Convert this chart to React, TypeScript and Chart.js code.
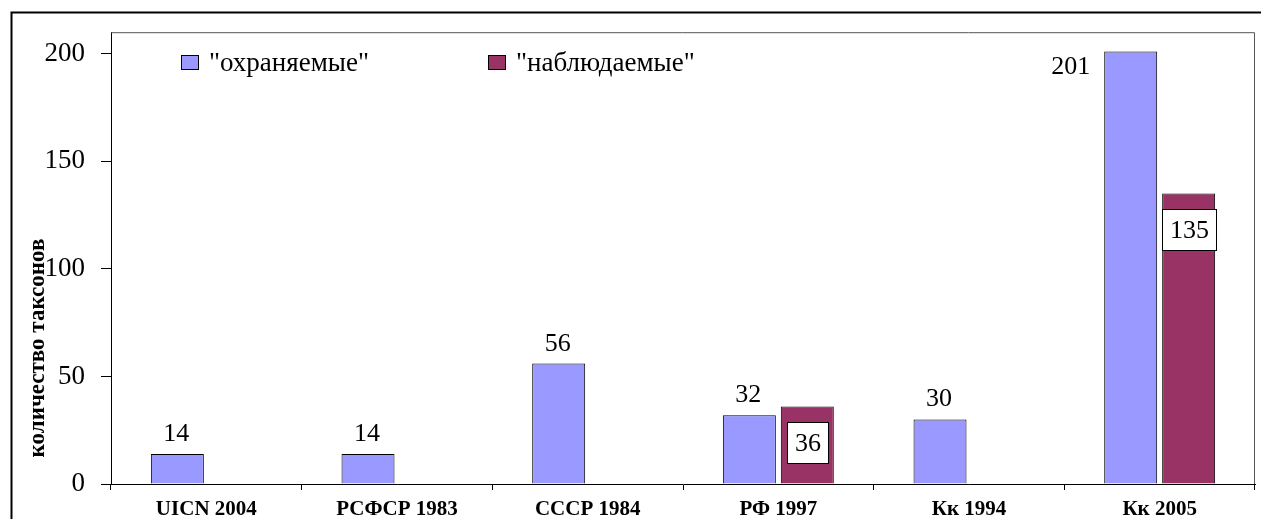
import React, { useEffect, useRef } from "react";
import { Chart, registerables } from "chart.js";

Chart.register(...registerables);

const categories = ["UICN 2004", "РСФСР 1983", "СССР 1984", "РФ 1997", "Кк 1994", "Кк 2005"];
const protectedValues: (number | null)[] = [14, 14, 56, 32, 30, 201];
const observedValues: (number | null)[] = [null, null, null, 36, null, 135];
const seriesLabels = ['"охраняемые"', '"наблюдаемые"'];
const seriesColors = ["#9999FF", "#993366"];
const yTickValues = [0, 50, 100, 150, 200];
const yMax = 210;
const yTitle = "количество таксонов";

const FONT = "'Liberation Serif', 'Times New Roman', serif";

const decorPlugin = {
  id: "decor",
  beforeDraw(chart: any) {
    const ctx = chart.ctx;
    ctx.save();
    ctx.fillStyle = "#ffffff";
    ctx.fillRect(0, 0, chart.width, chart.height);
    ctx.strokeStyle = "#000000";
    ctx.lineWidth = 2;
    ctx.beginPath();
    ctx.moveTo(11.5, chart.height);
    ctx.lineTo(11.5, 12.5);
    ctx.lineTo(chart.width, 12.5);
    ctx.stroke();
    ctx.restore();
  },
  afterDraw(chart: any) {
    const ctx = chart.ctx;
    const area = chart.chartArea;
    ctx.save();
    ctx.strokeStyle = "#555555";
    ctx.lineWidth = 1;
    ctx.beginPath();
    ctx.moveTo(area.left, area.top + 0.5);
    ctx.lineTo(area.right - 0.5, area.top + 0.5);
    ctx.lineTo(area.right - 0.5, area.bottom);
    ctx.stroke();

    ctx.fillStyle = "#000";
    ctx.font = `bold 23px ${FONT}`;
    ctx.textAlign = "center";
    ctx.textBaseline = "middle";
    ctx.translate(38, 348);
    ctx.rotate(-Math.PI / 2);
    ctx.fillText(yTitle, 0, 0);
    ctx.restore();

    ctx.save();
    const legendX = [181, 488];
    chart.data.datasets.forEach((ds: any, i: number) => {
      const x = legendX[i];
      ctx.fillStyle = ds.backgroundColor;
      ctx.fillRect(x, 55, 18, 15);
      ctx.strokeStyle = "#000";
      ctx.lineWidth = 1;
      ctx.strokeRect(x + 0.5, 55.5, 17, 14);
      ctx.fillStyle = "#000";
      ctx.font = `27px ${FONT}`;
      ctx.textAlign = "left";
      ctx.textBaseline = "alphabetic";
      ctx.fillText(ds.label, x + 28, 71);
    });
    ctx.restore();

    ctx.save();
    ctx.font = `26px ${FONT}`;
    ctx.fillStyle = "#000";
    const m0 = chart.getDatasetMeta(0);
    m0.data.forEach((bar: any, i: number) => {
      const v = chart.data.datasets[0].data[i];
      if (v == null) return;
      const txt = String(v);
      if (bar.y - 36 < area.top) {
        ctx.textAlign = "right";
        ctx.textBaseline = "alphabetic";
        ctx.fillText(txt, bar.x - bar.width / 2 - 14, bar.y + 22);
      } else {
        ctx.textAlign = "center";
        ctx.textBaseline = "alphabetic";
        ctx.fillText(txt, bar.x - 1, bar.y - 13);
      }
    });
    const m1 = chart.getDatasetMeta(1);
    m1.data.forEach((bar: any, i: number) => {
      const v = chart.data.datasets[1].data[i];
      if (v == null) return;
      const txt = String(v);
      const w = Math.round(ctx.measureText(txt).width + 15);
      const h = 41;
      const bx = Math.round(bar.x - w / 2) + 0.5;
      const by = Math.round(bar.y + 15) + 0.5;
      ctx.fillStyle = "#fff";
      ctx.fillRect(bx, by, w, h);
      ctx.strokeStyle = "#000";
      ctx.lineWidth = 1;
      ctx.strokeRect(bx, by, w, h);
      ctx.fillStyle = "#000";
      ctx.textAlign = "center";
      ctx.textBaseline = "middle";
      ctx.fillText(txt, bx + w / 2, by + h / 2 + 1);
    });
    ctx.restore();
  },
};

export default function App() {
  const ref = useRef<HTMLCanvasElement | null>(null);
  useEffect(() => {
    if (!ref.current) return;
    const chart = new Chart(ref.current, {
      type: "bar",
      data: {
        labels: categories,
        datasets: [
          {
            label: seriesLabels[0],
            data: protectedValues,
            backgroundColor: seriesColors[0],
            borderColor: "#000",
            borderWidth: 1,
            categoryPercentage: 0.608,
            barPercentage: 0.914,
          },
          {
            label: seriesLabels[1],
            data: observedValues,
            backgroundColor: seriesColors[1],
            borderColor: "#000",
            borderWidth: 1,
            categoryPercentage: 0.608,
            barPercentage: 0.914,
          },
        ],
      },
      options: {
        responsive: false,
        animation: false,
        events: [],
        layout: { padding: { left: 0, top: 32, right: 6, bottom: 0 } },
        plugins: { legend: { display: false }, tooltip: { enabled: false }, title: { display: false } },
        scales: {
          x: {
            offset: true,
            grid: { display: true, drawOnChartArea: false, offset: true, tickLength: 6, color: "#000" },
            border: { display: true, color: "#000", width: 1 },
            ticks: { color: "#000", font: { family: FONT, size: 21, weight: "bold" }, padding: 7, maxRotation: 0, autoSkip: false },
            afterFit: (s: any) => { s.height = 35; },
          },
          y: {
            min: 0,
            max: yMax,
            afterBuildTicks: (s: any) => { s.ticks = yTickValues.map((v) => ({ value: v })); },
            grid: { display: true, drawOnChartArea: false, tickLength: 10, color: "#000" },
            border: { display: true, color: "#000", width: 1 },
            ticks: { color: "#000", font: { family: FONT, size: 27 }, padding: 16 },
            afterFit: (s: any) => { s.width = 111; },
          },
        },
      },
      plugins: [decorPlugin],
    });
    return () => chart.destroy();
  }, []);
  return (
    <div style={{ position: "absolute", left: 0, top: 0, width: 1261, height: 519 }}>
      <canvas ref={ref} width={1261} height={519} style={{ display: "block" }} />
    </div>
  );
}
